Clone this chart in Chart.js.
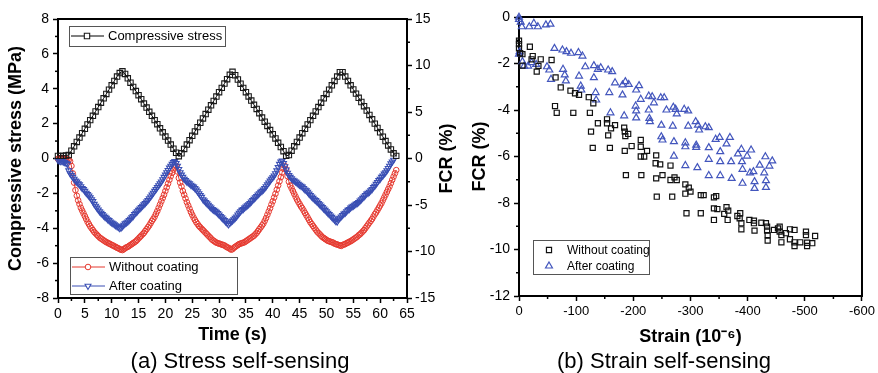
<!DOCTYPE html>
<html><head><meta charset="utf-8">
<script src="https://cdn.jsdelivr.net/npm/chart.js@4.4.1/dist/chart.umd.min.js"></script>
<style>
html,body{margin:0;padding:0;background:#fff;overflow:hidden;}
#wrap{position:relative;width:878px;height:373px;}
canvas{position:absolute;top:0;}
#c1{left:0;} #c2{left:465px;}
</style></head><body>
<div id="wrap"><canvas id="c1" width="480" height="373"></canvas><canvas id="c2" width="413" height="373"></canvas></div>
<script>
// ---------- Panel (a): stress self-sensing ----------
const stressTime = [
0,0.5,1,1.5,2,2.5,3,3.5,4,4.5,
5,5.5,6,6.5,7,7.5,8,8.5,9,9.5,
10,10.5,11,11.5,12,12.5,13,13.5,14,14.5,
15,15.5,16,16.5,17,17.5,18,18.5,19,19.5,
20,20.5,21,21.5,22,22.5,23,23.5,24,24.5,
25,25.5,26,26.5,27,27.5,28,28.5,29,29.5,
30,30.5,31,31.5,32,32.5,33,33.5,34,34.5,
35,35.5,36,36.5,37,37.5,38,38.5,39,39.5,
40,40.5,41,41.5,42,42.5,43,43.5,44,44.5,
45,45.5,46,46.5,47,47.5,48,48.5,49,49.5,
50,50.5,51,51.5,52,52.5,53,53.5,54,54.5,
55,55.5,56,56.5,57,57.5,58,58.5,59,59.5,
60,60.5,61,61.5,62,62.5,63];
const stressMPa = [
0.15,0.15,0.15,0.17,0.2,0.45,0.7,0.95,1.2,1.45,
1.7,1.95,2.2,2.45,2.7,2.95,3.2,3.45,3.7,3.95,
4.2,4.45,4.7,4.9,5.0,4.85,4.6,4.35,4.1,3.87,
3.63,3.4,3.15,2.92,2.68,2.45,2.2,1.97,1.73,1.5,
1.26,1.03,0.8,0.56,0.33,0.13,0.3,0.55,0.8,1.05,
1.3,1.55,1.8,2.05,2.3,2.55,2.8,3.05,3.3,3.55,
3.8,4.05,4.3,4.55,4.8,4.97,4.78,4.53,4.29,4.05,
3.8,3.56,3.32,3.08,2.84,2.6,2.35,2.11,1.87,1.63,
1.39,1.15,0.9,0.66,0.42,0.15,0.2,0.45,0.7,0.95,
1.2,1.45,1.7,1.95,2.2,2.45,2.7,2.95,3.2,3.45,
3.7,3.95,4.2,4.45,4.7,4.95,4.95,4.7,4.45,4.2,
3.96,3.72,3.48,3.24,3.0,2.75,2.5,2.25,2.0,1.75,
1.5,1.25,1.0,0.75,0.52,0.3,0.15];
const fcrTime = [
0,0.25,0.5,0.75,1,1.25,1.5,1.75,2,2.25,2.5,2.75,3,3.25,3.5,3.75,4,4.25,4.5,4.75,
5,5.25,5.5,5.75,6,6.25,6.5,6.75,7,7.25,7.5,7.75,8,8.25,8.5,8.75,9,9.25,9.5,9.75,
10,10.25,10.5,10.75,11,11.25,11.5,11.75,12,12.25,12.5,12.75,13,13.25,13.5,13.75,14,14.25,14.5,14.75,
15,15.25,15.5,15.75,16,16.25,16.5,16.75,17,17.25,17.5,17.75,18,18.25,18.5,18.75,19,19.25,19.5,19.75,
20,20.25,20.5,20.75,21,21.25,21.5,21.75,22,22.25,22.5,22.75,23,23.25,23.5,23.75,24,24.25,24.5,24.75,
25,25.25,25.5,25.75,26,26.25,26.5,26.75,27,27.25,27.5,27.75,28,28.25,28.5,28.75,29,29.25,29.5,29.75,
30,30.25,30.5,30.75,31,31.25,31.5,31.75,32,32.25,32.5,32.75,33,33.25,33.5,33.75,34,34.25,34.5,34.75,
35,35.25,35.5,35.75,36,36.25,36.5,36.75,37,37.25,37.5,37.75,38,38.25,38.5,38.75,39,39.25,39.5,39.75,
40,40.25,40.5,40.75,41,41.25,41.5,41.75,42,42.25,42.5,42.75,43,43.25,43.5,43.75,44,44.25,44.5,44.75,
45,45.25,45.5,45.75,46,46.25,46.5,46.75,47,47.25,47.5,47.75,48,48.25,48.5,48.75,49,49.25,49.5,49.75,
50,50.25,50.5,50.75,51,51.25,51.5,51.75,52,52.25,52.5,52.75,53,53.25,53.5,53.75,54,54.25,54.5,54.75,
55,55.25,55.5,55.75,56,56.25,56.5,56.75,57,57.25,57.5,57.75,58,58.25,58.5,58.75,59,59.25,59.5,59.75,
60,60.25,60.5,60.75,61,61.25,61.5,61.75,62,62.25,62.5,62.75,63];
const fcrWithout = [
-0.05,0,0.05,0,-0.05,0,-0.05,-0.1,-0.15,-0.3,-0.8,-1.6,-2.6,-3.4,-4.0,-4.5,-4.9,-5.3,-5.6,-5.9,
-6.2,-6.5,-6.8,-7.05,-7.3,-7.5,-7.7,-7.9,-8.05,-8.2,-8.35,-8.5,-8.6,-8.7,-8.8,-8.9,-9.0,-9.05,-9.15,-9.2,
-9.3,-9.35,-9.45,-9.5,-9.6,-9.65,-9.75,-9.8,-9.85,-9.75,-9.65,-9.55,-9.5,-9.4,-9.3,-9.2,-9.1,-9.0,-8.9,-8.75,
-8.6,-8.45,-8.3,-8.15,-8.0,-7.8,-7.6,-7.4,-7.2,-6.95,-6.7,-6.5,-6.25,-5.95,-5.65,-5.3,-4.95,-4.6,-4.25,-3.9,
-3.5,-3.1,-2.7,-2.3,-1.9,-1.55,-1.2,-0.95,-0.8,-1.4,-2.1,-2.6,-3.0,-3.5,-3.9,-4.3,-4.7,-5.05,-5.4,-5.75,
-6.05,-6.35,-6.6,-6.85,-7.05,-7.25,-7.4,-7.55,-7.7,-7.85,-8.0,-8.15,-8.3,-8.45,-8.6,-8.75,-8.85,-8.95,-9.05,-9.1,
-9.15,-9.2,-9.25,-9.3,-9.35,-9.45,-9.55,-9.6,-9.7,-9.8,-9.75,-9.6,-9.5,-9.4,-9.3,-9.2,-9.15,-9.1,-9.05,-9.0,
-8.9,-8.8,-8.7,-8.6,-8.5,-8.4,-8.3,-8.15,-8.0,-7.8,-7.6,-7.4,-7.2,-7.0,-6.7,-6.4,-6.05,-5.7,-5.35,-4.95,
-4.6,-4.2,-3.8,-3.35,-2.9,-2.45,-2.0,-1.5,-1.1,-0.8,-1.2,-1.9,-2.5,-2.9,-3.2,-3.5,-3.8,-4.1,-4.4,-4.65,
-4.9,-5.15,-5.35,-5.6,-5.85,-6.1,-6.35,-6.6,-6.85,-7.05,-7.25,-7.45,-7.65,-7.85,-8.0,-8.15,-8.3,-8.45,-8.55,-8.65,
-8.75,-8.85,-8.9,-8.95,-9.0,-9.05,-9.15,-9.2,-9.25,-9.3,-9.35,-9.4,-9.3,-9.25,-9.2,-9.1,-9.05,-8.95,-8.9,-8.8,
-8.7,-8.6,-8.5,-8.4,-8.25,-8.15,-8.0,-7.85,-7.7,-7.5,-7.3,-7.1,-6.9,-6.7,-6.5,-6.25,-6.0,-5.8,-5.55,-5.3,
-5.05,-4.8,-4.5,-4.2,-3.9,-3.6,-3.3,-3.0,-2.65,-2.3,-1.95,-1.6,-1.25];
const fcrAfter = [
-0.2,-0.25,-0.3,-0.3,-0.35,-0.4,-0.5,-0.6,-1.3,-1.6,-1.8,-2.0,-2.2,-2.4,-2.5,-2.7,-2.8,-3.0,-3.2,-3.3,
-3.5,-3.7,-3.85,-4.0,-4.2,-4.4,-4.6,-4.9,-5.1,-5.3,-5.5,-5.7,-5.85,-6.0,-6.15,-6.3,-6.4,-6.55,-6.65,-6.8,
-6.9,-7.0,-7.1,-7.2,-7.3,-7.4,-7.5,-7.45,-7.3,-7.15,-7.0,-6.9,-6.8,-6.65,-6.5,-6.35,-6.2,-6.0,-5.85,-5.7,
-5.55,-5.4,-5.25,-5.1,-4.95,-4.8,-4.65,-4.5,-4.3,-4.1,-3.9,-3.7,-3.5,-3.3,-3.1,-2.9,-2.7,-2.5,-2.25,-2.0,
-1.75,-1.5,-1.25,-1.0,-0.8,-0.6,-0.4,-0.3,-0.5,-0.8,-1.15,-1.5,-1.75,-2.0,-2.2,-2.35,-2.5,-2.6,-2.7,-2.85,
-2.95,-3.05,-3.2,-3.35,-3.55,-3.75,-3.95,-4.15,-4.4,-4.55,-4.7,-4.85,-5.0,-5.15,-5.3,-5.45,-5.55,-5.65,-5.75,-5.9,
-6.05,-6.2,-6.35,-6.5,-6.65,-6.8,-6.95,-7.1,-6.95,-6.8,-6.7,-6.55,-6.4,-6.25,-6.05,-5.85,-5.7,-5.55,-5.45,-5.3,
-5.2,-5.05,-4.95,-4.8,-4.65,-4.5,-4.35,-4.2,-4.05,-3.9,-3.75,-3.6,-3.5,-3.35,-3.2,-3.0,-2.8,-2.6,-2.4,-2.2,
-2.05,-1.85,-1.6,-1.3,-0.95,-0.6,-0.35,-0.25,-0.5,-0.85,-1.2,-1.55,-1.8,-2.0,-2.15,-2.3,-2.4,-2.5,-2.6,-2.75,
-2.85,-2.95,-3.05,-3.2,-3.35,-3.45,-3.6,-3.8,-3.95,-4.1,-4.25,-4.4,-4.5,-4.65,-4.8,-4.95,-5.1,-5.25,-5.4,-5.55,
-5.7,-5.85,-6.0,-6.15,-6.3,-6.45,-6.6,-6.75,-6.8,-6.55,-6.4,-6.25,-6.1,-5.95,-5.85,-5.7,-5.55,-5.45,-5.3,-5.2,
-5.1,-5.0,-4.9,-4.8,-4.7,-4.55,-4.4,-4.25,-4.1,-3.95,-3.8,-3.7,-3.6,-3.45,-3.3,-3.1,-2.95,-2.75,-2.55,-2.35,
-2.2,-2.0,-1.85,-1.65,-1.5,-1.3,-1.05,-0.8,-0.55,-0.35,-0.15];

// ---------- Panel (b): strain self-sensing ----------
const strainWithout = [0,0,0,-2,-6,-19,-6,-24,-22,-31,-34,-38,-57,-64,-73,-90,-98,-105,-122,-130,-63,-66,-95,-124,-138,-154,-154,-161,-168,-184,-185,-191,-156,-126,-186,-213,-197,-213,-224,-213,-219,-240,-129,-159,-185,-239,-247,-265,-251,-240,-265,-272,-276,-187,-214,-291,-297,-291,-300,-318,-323,-341,-345,-241,-268,-293,-318,-341,-347,-341,-363,-359,-366,-365,-382,-387,-386,-389,-389,-403,-411,-411,-412,-424,-432,-434,-434,-435,-435,-446,-453,-456,-456,-459,-459,-467,-474,-474,-482,-482,-482,-492,-502,-502,-504,-504,-513,-518];
const fcrStrainWithout = [-1.02,-1.17,-1.35,-1.56,-1.6,-1.28,-2.09,-1.68,-1.82,-2.35,-2.1,-1.82,-1.85,-2.6,-3.03,-3.17,-3.28,-3.35,-3.45,-3.71,-3.83,-4.12,-4.12,-4.12,-4.57,-4.4,-4.57,-4.79,-4.65,-4.76,-4.93,-5.03,-5.09,-4.93,-5.12,-5.29,-5.55,-5.58,-5.76,-6.0,-6.0,-5.95,-5.63,-5.63,-5.76,-6.29,-6.34,-6.39,-6.8,-6.94,-7.01,-6.9,-7.01,-6.8,-6.8,-7.2,-7.34,-7.6,-7.51,-7.66,-7.66,-7.76,-7.7,-7.73,-7.73,-8.44,-8.44,-8.23,-8.26,-8.73,-8.18,-8.47,-8.33,-8.73,-8.56,-8.44,-8.66,-8.87,-9.13,-8.73,-8.76,-8.87,-9.19,-8.85,-8.87,-9.02,-9.19,-9.38,-9.62,-9.16,-9.09,-9.02,-9.23,-9.38,-9.69,-9.3,-9.13,-9.56,-9.16,-9.69,-9.85,-9.69,-9.23,-9.38,-9.71,-9.85,-9.73,-9.42];
const strainAfter = [0,0,-3,-5,-18,-26,-33,-47,-55,-1,0,-6,-16,-22,-30,-9,-62,-76,-83,-91,-104,-111,-49,-53,-56,-77,-80,-82,-116,-131,-138,-143,-156,-163,-105,-108,-109,-131,-134,-135,-158,-168,-181,-186,-192,-210,-205,-181,-213,-227,-233,-236,-248,-254,-204,-205,-205,-184,-160,-227,-228,-229,-258,-270,-274,-276,-289,-296,-249,-269,-296,-309,-313,-315,-326,-332,-249,-251,-271,-291,-291,-310,-310,-332,-344,-351,-352,-363,-369,-271,-291,-312,-332,-352,-371,-332,-352,-372,-383,-389,-406,-399,-390,-391,-404,-410,-412,-412,-391,-421,-431,-443,-438,-429,-432,-432];
const fcrStrainAfter = [-0.01,-0.1,-0.22,-0.42,-0.42,-0.27,-0.42,-0.34,-0.31,-1.49,-1.6,-1.92,-2.11,-1.96,-2.04,-2.11,-1.35,-1.42,-1.49,-1.56,-1.53,-1.68,-2.14,-2.28,-2.68,-2.25,-2.49,-2.75,-2.14,-2.09,-2.25,-2.18,-2.28,-2.35,-2.54,-2.97,-3.14,-2.61,-3.25,-3.57,-3.25,-2.83,-2.92,-2.78,-2.9,-2.95,-3.14,-3.35,-3.54,-3.4,-3.43,-3.69,-3.47,-3.47,-3.83,-4.04,-4.34,-4.25,-4.12,-4.0,-4.36,-4.5,-4.0,-3.88,-3.97,-4.17,-3.97,-4.04,-4.65,-4.69,-4.69,-4.5,-4.65,-4.86,-4.72,-4.76,-5.15,-5.29,-5.36,-5.41,-5.58,-5.51,-5.61,-5.62,-5.26,-5.18,-5.79,-5.46,-5.18,-5.98,-6.39,-6.48,-6.12,-6.22,-6.22,-6.82,-6.82,-6.94,-5.89,-5.69,-5.72,-5.98,-6.22,-6.55,-6.7,-6.65,-7.08,-7.37,-7.15,-6.37,-6.01,-6.19,-6.41,-6.7,-7.04,-7.33];

const FONT = "'Liberation Sans', Arial, Helvetica, sans-serif";
Chart.defaults.font.family = FONT;
Chart.defaults.color = '#000';

const RED = '#e5392f', BLUE = '#3a4fb4', BLUE2 = '#4356bd';

const decor = {
  id: 'decor',
  beforeDatasetsDraw(chart, args, o) {
    const ctx = chart.ctx, a = chart.chartArea;
    ctx.save();
    ctx.strokeStyle = '#000';
    ctx.lineWidth = 1.5;
    (o.minor || []).forEach(m => {
      const s = chart.scales[m.id];
      for (let v = s.min; v <= s.max + 1e-9; v += m.step) {
        if (Math.abs(v / m.major - Math.round(v / m.major)) < 1e-6) continue;
        const p = s.getPixelForValue(v);
        ctx.beginPath();
        if (s.position === 'bottom') { ctx.moveTo(p, a.bottom); ctx.lineTo(p, a.bottom + m.len); }
        else if (s.position === 'left') { ctx.moveTo(a.left, p); ctx.lineTo(a.left - m.len, p); }
        else { ctx.moveTo(a.right, p); ctx.lineTo(a.right + m.len, p); }
        ctx.stroke();
      }
    });
    ctx.lineWidth = 2;
    ctx.strokeRect(a.left, a.top, a.right - a.left, a.bottom - a.top);
    if (o.rightTitle) {
      const s = chart.scales[o.rightTitle.id];
      ctx.font = 'bold 18px ' + FONT;
      ctx.fillStyle = '#000'; ctx.textAlign = 'center'; ctx.textBaseline = 'middle';
      ctx.translate(s.right - o.rightTitle.offset, (a.top + a.bottom) / 2);
      ctx.rotate(-Math.PI / 2);
      ctx.fillText(o.rightTitle.text, 0, 0);
    }
    ctx.restore();
  },
  afterDraw(chart, args, o) {
    const ctx = chart.ctx, a = chart.chartArea;
    (o.legends || []).forEach(L => {
      ctx.save();
      const x = a.left + L.dx;
      const y = L.fromBottom ? a.bottom - L.dy : a.top + L.dy;
      ctx.fillStyle = '#fff'; ctx.fillRect(x, y, L.w, L.h);
      ctx.strokeStyle = '#555'; ctx.lineWidth = 1;
      ctx.strokeRect(x + 0.5, y + 0.5, L.w, L.h);
      ctx.font = L.size + 'px ' + FONT;
      ctx.textAlign = 'left'; ctx.textBaseline = 'middle';
      L.items.forEach((idx, i) => {
        const ds = chart.data.datasets[idx];
        const cy = y + L.first + i * L.row;
        if (L.line) {
          ctx.strokeStyle = ds.borderColor; ctx.lineWidth = 1;
          ctx.beginPath(); ctx.moveTo(x + L.line[0], cy); ctx.lineTo(x + L.line[1], cy); ctx.stroke();
        }
        ctx.strokeStyle = ds.pointBorderColor; ctx.fillStyle = '#fff'; ctx.lineWidth = ds.pointBorderWidth;
        Chart.helpers.drawPoint(ctx, {pointStyle: ds.pointStyle, rotation: ds.pointRotation || 0,
          radius: ds.pointRadius, borderWidth: ds.pointBorderWidth}, x + L.mx, cy);
        ctx.fillStyle = '#000';
        ctx.fillText(ds.label, x + L.tx, cy + 0.5);
      });
      ctx.restore();
    });
  }
};

const axisCommon = (extra) => Object.assign({
  grid: { drawOnChartArea: false, drawTicks: true, tickLength: 5, tickWidth: 1.5, tickColor: '#000' },
  border: { display: true, color: '#000', width: 2 },
}, extra);

new Chart(document.getElementById('c1'), {
  type: 'scatter',
  data: { datasets: [
    { label: 'Compressive stress', yAxisID: 'y', showLine: true,
      data: stressTime.map((t, i) => ({x: t, y: stressMPa[i]})),
      borderColor: '#000', borderWidth: 1, pointStyle: 'rect', pointRadius: 3.8,
      pointBorderColor: '#1a1a1a', pointBorderWidth: 1.1, pointBackgroundColor: 'rgba(255,255,255,0)', clip: false },
    { label: 'After coating', yAxisID: 'y1', showLine: true,
      data: fcrAfter.map((v, i) => ({x: fcrTime[i], y: v})),
      borderColor: BLUE, borderWidth: 1, pointStyle: 'triangle', pointRotation: 180, pointRadius: 3.4,
      pointBorderColor: BLUE, pointBorderWidth: 1.1, pointBackgroundColor: 'rgba(255,255,255,0)', clip: false },
    { label: 'Without coating', yAxisID: 'y1', showLine: true,
      data: fcrWithout.map((v, i) => ({x: fcrTime[i], y: v})),
      borderColor: RED, borderWidth: 1, pointStyle: 'circle', pointRadius: 2.8,
      pointBorderColor: RED, pointBorderWidth: 1, pointBackgroundColor: 'rgba(255,255,255,0)', clip: false }
  ]},
  options: {
    responsive: false, animation: false, devicePixelRatio: 1, events: [],
    layout: { padding: { top: 19, left: 0, right: 0, bottom: 0 } },
    scales: {
      x: axisCommon({ type: 'linear', position: 'bottom', min: 0, max: 65,
        ticks: { stepSize: 5, font: { size: 14 }, padding: 3, maxRotation: 0 },
        title: { display: true, text: 'Time (s)', font: { size: 18, weight: 'bold' }, padding: { top: 0, bottom: 5 } },
        afterFit: s => { s.height = 53; } }),
      y: axisCommon({ type: 'linear', position: 'left', min: -8, max: 8,
        ticks: { stepSize: 2, font: { size: 14 }, padding: 4 },
        title: { display: true, text: 'Compressive stress (MPa)', font: { size: 18, weight: 'bold' }, padding: { top: 5, bottom: 0 } },
        afterFit: s => { s.width = 58; } }),
      y1: axisCommon({ type: 'linear', position: 'right', min: -15, max: 15,
        ticks: { stepSize: 5, font: { size: 14 }, padding: 3 },
        afterFit: s => { s.width = 73; } })
    },
    plugins: {
      legend: { display: false }, tooltip: { enabled: false },
      title: { display: true, position: 'bottom', text: '(a) Stress self-sensing',
        font: { size: 22, weight: 'normal', lineHeight: 1 }, padding: { top: 0, bottom: 0 }, color: '#000' },
      decor: {
        minor: [ { id: 'x', step: 2.5, major: 5, len: 3 }, { id: 'y', step: 1, major: 2, len: 3 }, { id: 'y1', step: 2.5, major: 5, len: 3 } ],
        rightTitle: { id: 'y1', text: 'FCR (%)', offset: 33 },
        legends: [
          { dx: 11, dy: 7, w: 156, h: 20, items: [0], first: 10, row: 19, line: [2, 35], mx: 18, tx: 39, size: 13 },
          { fromBottom: true, dx: 12, dy: 41, w: 167, h: 37, items: [2, 1], first: 10, row: 19, line: [2, 35], mx: 18, tx: 39, size: 13 }
        ]
      }
    }
  },
  plugins: [decor]
});

new Chart(document.getElementById('c2'), {
  type: 'scatter',
  data: { datasets: [
    { label: 'Without coating', data: strainWithout.map((s, i) => ({x: s, y: fcrStrainWithout[i]})),
      pointStyle: 'rect', pointRadius: 3.6, pointBorderColor: '#111', pointBorderWidth: 1.2,
      pointBackgroundColor: 'rgba(255,255,255,0)', borderColor: '#111', clip: false },
    { label: 'After coating', data: strainAfter.map((s, i) => ({x: s, y: fcrStrainAfter[i]})),
      pointStyle: 'triangle', pointRadius: 4, pointBorderColor: BLUE2, pointBorderWidth: 1.2,
      pointBackgroundColor: 'rgba(255,255,255,0)', borderColor: BLUE2, clip: false }
  ]},
  options: {
    responsive: false, animation: false, devicePixelRatio: 1, events: [],
    layout: { padding: { top: 17, left: 0, right: 15, bottom: 0 } },
    scales: {
      x: axisCommon({ type: 'linear', position: 'bottom', min: -600, max: 0, reverse: true,
        ticks: { stepSize: 100, font: { size: 13 }, padding: 3, maxRotation: 0 },
        title: { display: true, text: 'Strain (10⁻⁶)', font: { size: 18, weight: 'bold' }, padding: { top: 0, bottom: 3 } },
        afterFit: s => { s.height = 55; } }),
      y: axisCommon({ type: 'linear', position: 'left', min: -12, max: 0,
        ticks: { stepSize: 2, font: { size: 14 }, padding: 4 },
        title: { display: true, text: 'FCR (%)', font: { size: 18, weight: 'bold' }, padding: { top: 4, bottom: 0 } },
        afterFit: s => { s.width = 54; } })
    },
    plugins: {
      legend: { display: false }, tooltip: { enabled: false },
      title: { display: true, position: 'bottom', text: '(b) Strain self-sensing',
        font: { size: 22, weight: 'normal', lineHeight: 1 }, padding: { top: 0, bottom: 0 }, color: '#000' },
      decor: {
        minor: [ { id: 'x', step: 50, major: 100, len: 3 }, { id: 'y', step: 1, major: 2, len: 3 } ],
        legends: [
          { fromBottom: true, dx: 14, dy: 56, w: 116, h: 34, items: [0, 1], first: 10, row: 16, mx: 16, tx: 34, size: 12 }
        ]
      }
    }
  },
  plugins: [decor]
});
</script></body></html>
